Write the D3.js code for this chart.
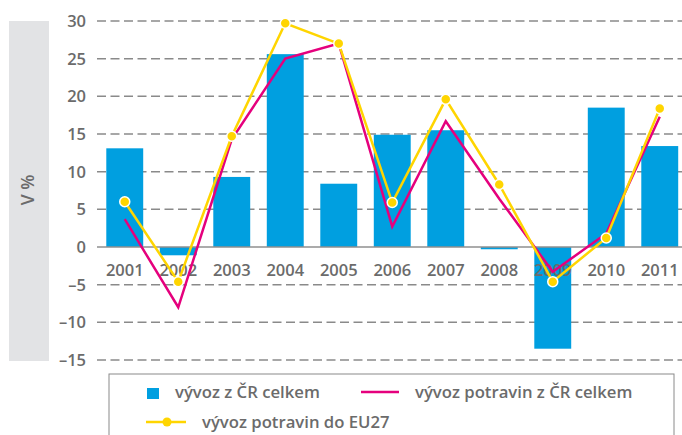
<!DOCTYPE html>
<html>
<head>
<meta charset="utf-8">
<script src="https://cdn.jsdelivr.net/npm/d3@7"></script>
<style>
  body { margin: 0; background: #fff; }
  text { font-family: "Open Sans", sans-serif; font-weight: 600; fill: #6b6b6b; }
</style>
</head>
<body>
<svg id="chart" width="682" height="435"></svg>
<script>
var years = ["2001","2002","2003","2004","2005","2006","2007","2008","2009","2010","2011"];
var exportTotal = [13.1, -1.1, 9.3, 25.6, 8.4, 14.9, 15.5, -0.3, -13.5, 18.5, 13.4];   // vývoz z ČR celkem
var foodExport = [3.7, -8.0, 14.3, 25.0, 27.0, 2.7, 16.7, 6.4, -3.3, 1.8, 17.3];       // vývoz potravin z ČR celkem
var foodEU27 = [6.0, -4.6, 14.7, 29.7, 27.0, 5.9, 19.6, 8.3, -4.6, 1.2, 18.4];          // vývoz potravin do EU27
var yTicks = [30, 25, 20, 15, 10, 5, 0, -5, -10, -15];
var legendLabels = ["vývoz z ČR celkem", "vývoz potravin z ČR celkem", "vývoz potravin do EU27"];

var svg = d3.select("#chart");

var x = d3.scaleBand().domain(years).range([98, 686.5]).paddingInner(0.31).paddingOuter(0.155);
var y = d3.scaleLinear().domain([-15, 30]).range([360, 21]);

// grey side strip with axis title
svg.append("rect").attr("x", 9).attr("y", 21).attr("width", 40).attr("height", 340).attr("fill", "#e2e3e5");
svg.append("text")
   .attr("transform", "translate(34,190) rotate(-90)")
   .attr("text-anchor", "middle")
   .style("font-size", "17.5px")
   .text("V %");

// dashed gridlines + tick labels
svg.selectAll(".grid").data(yTicks.filter(function(d) { return d !== 0; }))
   .enter().append("line")
   .attr("class", "grid")
   .attr("x1", 97).attr("x2", 682)
   .attr("y1", function(d) { return y(d); })
   .attr("y2", function(d) { return y(d); })
   .attr("stroke", "#8a8a8a")
   .attr("stroke-width", 1.5)
   .attr("stroke-dasharray", "9,4.5");

svg.selectAll(".ytick").data(yTicks)
   .enter().append("text")
   .attr("class", "ytick")
   .attr("x", 86)
   .attr("y", function(d) { return y(d) + 6; })
   .attr("text-anchor", "end")
   .style("font-size", "16.5px")
   .text(function(d) { return d < 0 ? "\u2013" + Math.abs(d) : d; });

// bars
svg.selectAll(".bar").data(exportTotal)
   .enter().append("rect")
   .attr("class", "bar")
   .attr("x", function(d, i) { return x(years[i]); })
   .attr("width", x.bandwidth())
   .attr("y", function(d) { return y(Math.max(0, d)); })
   .attr("height", function(d) { return Math.abs(y(d) - y(0)); })
   .attr("fill", "#009fe0");

// zero line
svg.append("line")
   .attr("x1", 97).attr("x2", 682)
   .attr("y1", y(0)).attr("y2", y(0))
   .attr("stroke", "#8f8f8f").attr("stroke-width", 1.5);

// year labels
svg.selectAll(".xlab").data(years)
   .enter().append("text")
   .attr("class", "xlab")
   .attr("x", function(d) { return x(d) + x.bandwidth() / 2; })
   .attr("y", 276)
   .attr("text-anchor", "middle")
   .style("font-size", "16.5px")
   .text(function(d) { return d; });

var cx = function(d, i) { return x(years[i]) + x.bandwidth() / 2; };

var line = d3.line().x(cx).y(function(d) { return y(d); });

svg.append("path").datum(foodExport)
   .attr("d", line)
   .attr("fill", "none")
   .attr("stroke", "#e5007d")
   .attr("stroke-width", 2.5);

svg.append("path").datum(foodEU27)
   .attr("d", line)
   .attr("fill", "none")
   .attr("stroke", "#ffd500")
   .attr("stroke-width", 2.5);

svg.selectAll(".dot").data(foodEU27)
   .enter().append("circle")
   .attr("class", "dot")
   .attr("cx", cx)
   .attr("cy", function(d) { return y(d); })
   .attr("r", 5)
   .attr("fill", "#ffd500")
   .attr("stroke", "#fff")
   .attr("stroke-width", 1.5);

// legend
var lg = svg.append("g");
lg.append("rect").attr("x", 109).attr("y", 374).attr("width", 565).attr("height", 80)
  .attr("fill", "#fff").attr("stroke", "#8a8a8a").attr("stroke-width", 1);

lg.append("rect").attr("x", 147).attr("y", 388).attr("width", 12).attr("height", 11).attr("fill", "#009fe0");
lg.append("text").attr("x", 175).attr("y", 398).style("font-size", "16.7px").text(legendLabels[0]);

lg.append("line").attr("x1", 361).attr("x2", 399).attr("y1", 392).attr("y2", 392)
  .attr("stroke", "#e5007d").attr("stroke-width", 2.5);
lg.append("text").attr("x", 415).attr("y", 398).style("font-size", "16.7px").text(legendLabels[1]);

lg.append("line").attr("x1", 146).attr("x2", 186).attr("y1", 422).attr("y2", 422)
  .attr("stroke", "#ffd500").attr("stroke-width", 2.5);
lg.append("circle").attr("cx", 167).attr("cy", 422).attr("r", 4.5).attr("fill", "#ffd500");
lg.append("text").attr("x", 202).attr("y", 428).style("font-size", "16.7px").text(legendLabels[2]);
</script>
</body>
</html>
